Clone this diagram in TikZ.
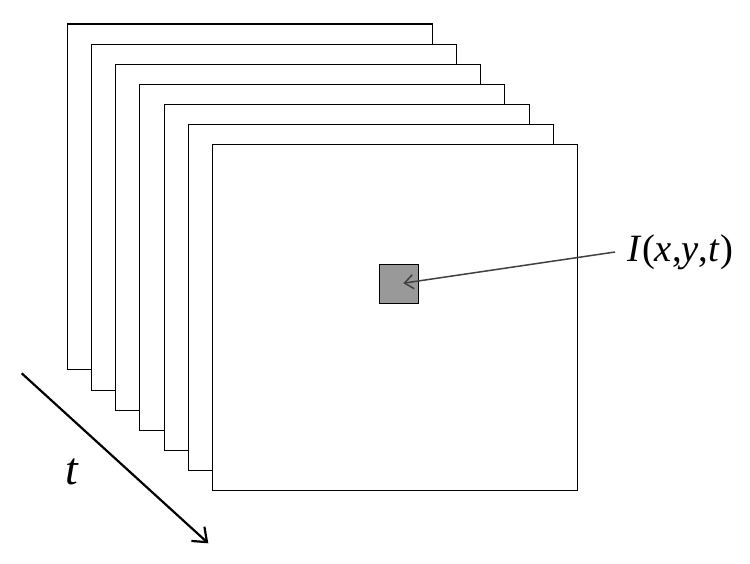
\documentclass[tikz,border=0pt]{standalone}
\usepackage{fontspec}
\setmainfont{Liberation Serif}
\usetikzlibrary{arrows.meta, positioning, calc}

\begin{document}
\begin{tikzpicture}[
  x=0.02cm, y=-0.02cm,
  frame/.style={draw, fill=white, line width=0.6pt, inner sep=0pt,
    outer sep=0pt, minimum width=7.3cm, minimum height=6.92cm,
    anchor=north west},
  pixel/.style={draw, fill=black!40, line width=0.6pt, inner sep=0pt,
    outer sep=0pt, minimum size=0.774cm},
  pointer/.style={-{Straight Barb[length=5pt, width=8pt]},
    line width=0.85pt, black!75},
  timearr/.style={-{Straight Barb[length=7pt, width=11pt]},
    line width=1.25pt}
]
  \useasboundingbox (0,0) rectangle (750,564);

  % Frames, back to front
  \foreach \i in {0,...,6}
    \node[frame] (f\i) at ({67.3+24.2*\i}, {24+20.1*\i}) {};

  % Pixel and its label
  \node[pixel] (pix) at (399.3, 283.8) {};
  \node[font=\fontsize{22}{26}\selectfont, anchor=west, inner xsep=7pt,
    inner ysep=0pt] (lbl) at (615, 252)
    {\textit{I}(\textit{x},\textit{y},\textit{t})};
  \draw[pointer, shorten >=2.3pt] (lbl.west) -- (pix.center);

  % Time axis
  \coordinate (t0) at (21.7, 373.3);
  \coordinate (t1) at (208.3, 543.3);
  \draw[timearr] (t0) -- (t1);
  \node[font=\fontsize{26}{30}\selectfont] (tlbl) at (72, 472)
    {\textit{t}};
\end{tikzpicture}
\end{document}
